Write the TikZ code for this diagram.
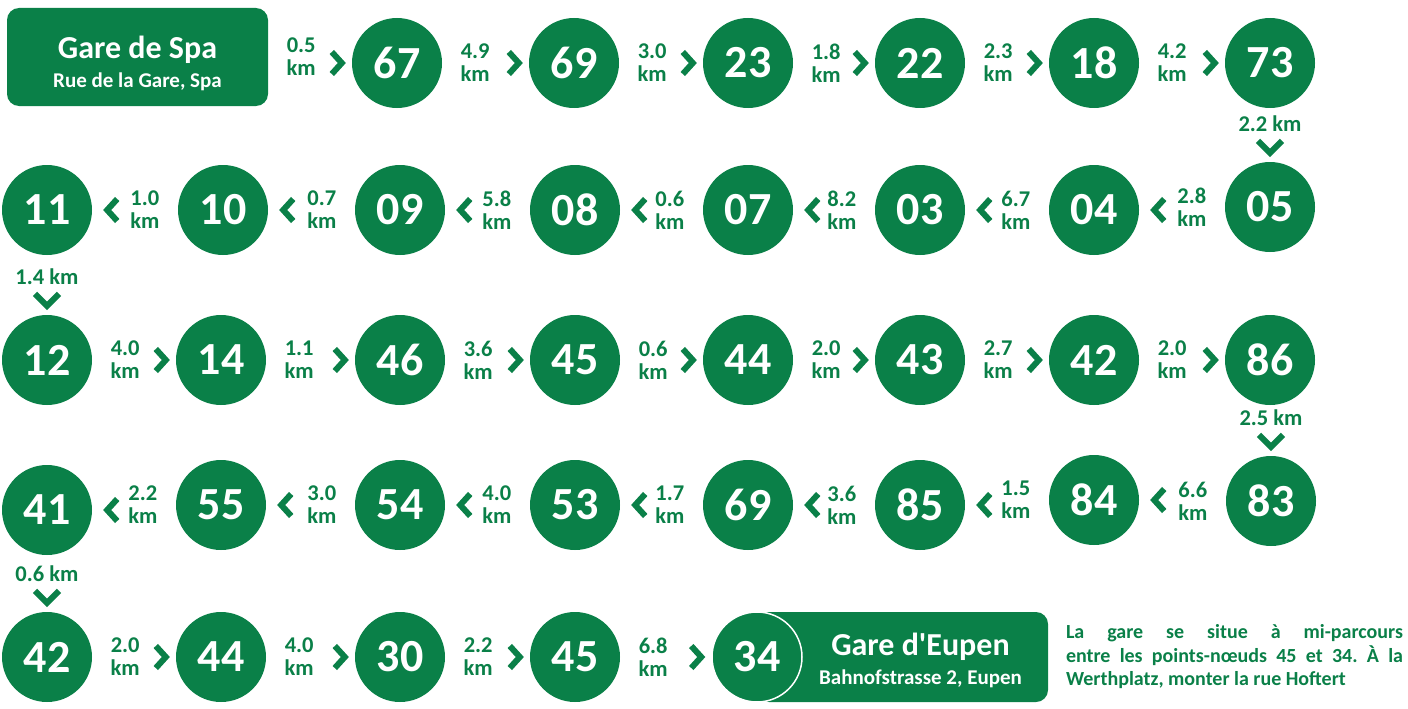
\documentclass[tikz,border=0pt]{standalone}
\usepackage{fontspec}
\setmainfont{Carlito}
\usetikzlibrary{calc,positioning}
\definecolor{routegreen}{RGB}{10,128,72}
\tolerance=10000
\frenchspacing
\tikzset{
  stopcircle/.style={circle,fill=routegreen,text=white,minimum size=90pt,inner sep=0pt,
    font=\fontsize{46}{46}\selectfont\bfseries},
  stationbox/.style={fill=routegreen,rounded corners=12pt,inner sep=0pt},
  stationtext/.style={text=white,align=center,inner sep=0pt,
    font=\fontsize{21}{29}\selectfont\bfseries},
  distlabel/.style={text=routegreen,align=center,inner sep=0pt,
    font=\fontsize{22.5}{23}\selectfont\bfseries},
  chevron/.style={draw=routegreen,line width=6pt,miter limit=10}
}
% one leg of the route: label, then chevron pointing at the next stop
\newcommand{\legright}[3]{%
  \node[distlabel] (d-#1) at ($(#1.east)+(33,0)$) {#3\\km};
  \draw[chevron] ($(#2.west)+(-20,-11)$) -- ($(#2.west)+(-10,0)$) -- ($(#2.west)+(-20,11)$);
}
\newcommand{\legleft}[3]{%
  \node[distlabel] (d-#1) at ($(#1.west)+(-33,0)$) {#3\\km};
  \draw[chevron] ($(#2.east)+(25,-11)$) -- ($(#2.east)+(15,0)$) -- ($(#2.east)+(25,11)$);
}
\newcommand{\legdown}[3]{%
  \node[distlabel] (d-#1) at ($(#2.north)+(0,-38)$) {#3 km};
  \draw[chevron] ($(#2.north)+(-12,-21)$) -- ($(#2.north)+(0,-9)$) -- ($(#2.north)+(12,-21)$);
}

\begin{document}
\begin{tikzpicture}[x=1pt,y=-1pt]
  \useasboundingbox (0,0) rectangle (1408,709);
  % start
  \node[stationbox,minimum width=261pt,minimum height=98pt] (spa) at (137.5,57) {};
  \node[stationtext] (spa-name) at ($(spa.center)+(0,6)$) {{\fontsize{32}{32}\selectfont Gare de Spa}\\Rue de la Gare, Spa};
  % row 1
  \node[stopcircle] (n67) at (397,63) {67};
  \node[stopcircle] (n69) at (574,63) {69};
  \node[stopcircle] (n23) at (748,63) {23};
  \node[stopcircle] (n22) at (920,63) {22};
  \node[stopcircle] (n18) at (1094,63) {18};
  \node[stopcircle] (n73) at (1270,63) {73};
  % row 2
  \node[stopcircle] (n05) at (1270,207) {05};
  \node[stopcircle] (n04) at (1094,210) {04};
  \node[stopcircle] (n03) at (920,210) {03};
  \node[stopcircle] (n07) at (748,210) {07};
  \node[stopcircle] (n08) at (575,210) {08};
  \node[stopcircle] (n09) at (400,210) {09};
  \node[stopcircle] (n10) at (223,210) {10};
  \node[stopcircle] (n11) at (47,210) {11};
  % row 3
  \node[stopcircle] (n12) at (47,360) {12};
  \node[stopcircle] (n14) at (221,360) {14};
  \node[stopcircle] (n46) at (400,360) {46};
  \node[stopcircle] (n45) at (575,360) {45};
  \node[stopcircle] (n44) at (748,360) {44};
  \node[stopcircle] (n43) at (920,360) {43};
  \node[stopcircle] (n42) at (1094,360) {42};
  \node[stopcircle] (n86) at (1270,360) {86};
  % row 4
  \node[stopcircle] (n83) at (1271,501) {83};
  \node[stopcircle] (n84) at (1094,500) {84};
  \node[stopcircle] (n85) at (920,505) {85};
  \node[stopcircle] (n69b) at (748,505) {69};
  \node[stopcircle] (n53) at (575,505) {53};
  \node[stopcircle] (n54) at (400,505) {54};
  \node[stopcircle] (n55) at (221,505) {55};
  \node[stopcircle] (n41) at (47,510) {41};
  % row 5
  \node[stopcircle] (n42b) at (47,657) {42};
  \node[stopcircle] (n44b) at (221,657) {44};
  \node[stopcircle] (n30) at (400,657) {30};
  \node[stopcircle] (n45b) at (575,657) {45};
  % end
  \node[stationbox,minimum width=291pt,minimum height=90pt] (eupen) at (902.5,657) {};
  \node[stopcircle,draw=white,line width=1.5pt] (n34) at (757,657) {34};
  \node[stationtext] (eupen-name) at ($(eupen.center)+(18,3)$) {{\fontsize{32}{32}\selectfont Gare d\textquotesingle Eupen}\\Bahnofstrasse 2, Eupen};
  \node[text=routegreen,text width=337pt,align=justify,inner sep=0pt,
    font=\fontsize{20}{23.5}\selectfont\bfseries] (note) at (1234.5,657)
    {La gare se situe à mi-parcours\linebreak entre les points-nœuds 45 et 34. À~la\linebreak Werthplatz, monter la rue Hoftert};
  % legs
  \legright{spa}{n67}{0.5}
  \legright{n67}{n69}{4.9}
  \legright{n69}{n23}{3.0}
  \legright{n23}{n22}{1.8}
  \legright{n22}{n18}{2.3}
  \legright{n18}{n73}{4.2}
  \legdown{n73}{n05}{2.2}
  \legleft{n05}{n04}{2.8}
  \legleft{n04}{n03}{6.7}
  \legleft{n03}{n07}{8.2}
  \legleft{n07}{n08}{0.6}
  \legleft{n08}{n09}{5.8}
  \legleft{n09}{n10}{0.7}
  \legleft{n10}{n11}{1.0}
  \legdown{n11}{n12}{1.4}
  \legright{n12}{n14}{4.0}
  \legright{n14}{n46}{1.1}
  \legright{n46}{n45}{3.6}
  \legright{n45}{n44}{0.6}
  \legright{n44}{n43}{2.0}
  \legright{n43}{n42}{2.7}
  \legright{n42}{n86}{2.0}
  \legdown{n86}{n83}{2.5}
  \legleft{n83}{n84}{6.6}
  \legleft{n84}{n85}{1.5}
  \legleft{n85}{n69b}{3.6}
  \legleft{n69b}{n53}{1.7}
  \legleft{n53}{n54}{4.0}
  \legleft{n54}{n55}{3.0}
  \legleft{n55}{n41}{2.2}
  \legdown{n41}{n42b}{0.6}
  \legright{n42b}{n44b}{2.0}
  \legright{n44b}{n30}{4.0}
  \legright{n30}{n45b}{2.2}
  \legright{n45b}{n34}{6.8}
\end{tikzpicture}
\end{document}
